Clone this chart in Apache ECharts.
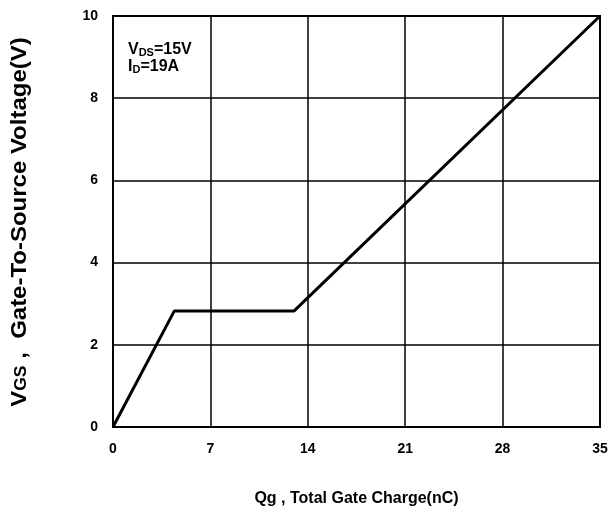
<!DOCTYPE html>
<html><head><meta charset="utf-8">
<script src="https://cdn.jsdelivr.net/npm/echarts@6/dist/echarts.min.js"></script>
<style>html,body{margin:0;padding:0;background:#fff}#c{width:611px;height:515px}</style>
</head><body><div id="c"></div>
<script>
const qg = [0, 4.4, 13.0, 35];
const vgs = [0, 2.82, 2.82, 10];
const xTicks = [0, 7, 14, 21, 28, 35];
const yTicks = [0, 2, 4, 6, 8, 10];
const F = 'Liberation Sans, Arial, sans-serif';
const chart = echarts.init(document.getElementById('c'));
chart.setOption({
  animation: false,
  grid: {left: 113, right: 11, top: 16, bottom: 88, show: true, borderColor: '#000', borderWidth: 2},
  xAxis: {
    type: 'value', min: 0, max: 35, interval: 7,
    axisLine: {show: false}, axisTick: {show: false},
    splitLine: {show: true, lineStyle: {color: '#000', width: 1.5}},
    axisLabel: {color: '#000', fontFamily: F, fontWeight: 'bold', fontSize: 14, margin: 15},
    name: 'Qg , Total Gate Charge(nC)', nameLocation: 'middle', nameGap: 64,
    nameTextStyle: {color: '#000', fontFamily: F, fontWeight: 'bold', fontSize: 16}
  },
  yAxis: {
    type: 'value', min: 0, max: 10, interval: 2,
    axisLine: {show: false}, axisTick: {show: false},
    splitLine: {show: true, lineStyle: {color: '#000', width: 1.5}},
    axisLabel: {color: '#000', fontFamily: F, fontWeight: 'bold', fontSize: 14, margin: 15}
  },
  series: [{
    type: 'line', data: qg.map((x, i) => [x, vgs[i]]), symbol: 'none',
    lineStyle: {color: '#000', width: 3}
  }],
  graphic: [
    {type: 'text', x: 18, y: 222, rotation: Math.PI / 2, scaleX: 1.09, scaleY: 1, style: {
      text: '{a|V}{s|GS}{a| ,  Gate-To-Source Voltage(V)}',
      align: 'center', verticalAlign: 'middle',
      rich: {
        a: {fill: '#000', fontFamily: F, fontWeight: 'bold', fontSize: 22, lineHeight: 26, verticalAlign: 'bottom'},
        s: {fill: '#000', fontFamily: F, fontWeight: 'bold', fontSize: 16, lineHeight: 26, verticalAlign: 'bottom', padding: [0, 0, 1, 0]}
      }
    }},
    {type: 'text', left: 128, top: 41, style: {
      text: '{a|V}{s|DS}{a|=15V}\n{a|I}{s|D}{a|=19A}',
      rich: {
        a: {fill: '#000', fontFamily: F, fontWeight: 'bold', fontSize: 16, lineHeight: 17},
        s: {fill: '#000', fontFamily: F, fontWeight: 'bold', fontSize: 11, padding: [6, 0, 0, 0], lineHeight: 17}
      }
    }}
  ]
});
</script></body></html>
